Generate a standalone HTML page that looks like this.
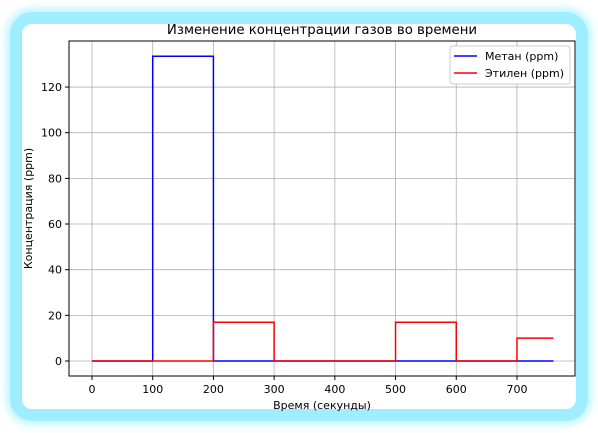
<!DOCTYPE html>
<html><head><meta charset="utf-8"><style>
body{margin:0;width:598px;height:433px;background:#fff;overflow:hidden;font-family:"DejaVu Sans","Liberation Sans",sans-serif;}
#frame{position:absolute;left:10px;top:12px;width:554px;height:385px;border:12px solid #9eeeff;border-radius:22px;box-shadow:0 0 8px 4px #c0f5ff;}
svg{position:absolute;left:0;top:0;}
</style></head><body>
<div id="frame"></div>
<svg id="chart" width="598" height="433" font-family="DejaVu Sans, Liberation Sans, sans-serif"></svg>
<script>
const times=[0,100,200,300,500,600,700,760];
const methane=[0,133.5,0,0,0,0,0];
const ethylene=[0,0,17,0,17,0,10];
const xTicks=[0,100,200,300,400,500,600,700];
const yTicks=[0,20,40,60,80,100,120];
const L=69,R=575,T=41,B=376;
const X=v=>92+v*0.6071, Y=v=>361-v*2.283;
const s=document.getElementById('chart'),NS='http://www.w3.org/2000/svg';
function mk(t,a,txt){const e=document.createElementNS(NS,t);for(const k in a)e.setAttribute(k,a[k]);if(txt!==undefined)e.textContent=txt;s.appendChild(e);return e;}
xTicks.forEach(v=>{
const g=mk('line',{x1:X(v),x2:X(v),y1:T,y2:B,stroke:'#b0b0b0','stroke-width':0.8});


mk('line',{x1:X(v),x2:X(v),y1:B,y2:B+4,stroke:'#000'});
const t=mk('text',{x:X(v),y:B+17,'text-anchor':'middle','font-size':11},v);


});
yTicks.forEach(v=>{
const g=mk('line',{x1:L,x2:R,y1:Y(v),y2:Y(v),stroke:'#b0b0b0','stroke-width':0.8});


mk('line',{x1:L-4,x2:L,y1:Y(v),y2:Y(v),stroke:'#000'});
const t=mk('text',{x:L-7,y:Y(v)+4,'text-anchor':'end','font-size':11},v);


});
function step(vals,color,name){
let d='M'+X(times[0])+','+Y(vals[0]);
for(let i=0;i<vals.length;i++){d+=' L'+X(times[i])+','+Y(vals[i])+' L'+X(times[i+1])+','+Y(vals[i]);}
const p=mk('path',{d:d,fill:'none',stroke:color,'stroke-width':1.5});


}
step(methane,'#0000ff','methane-line');
step(ethylene,'#ff0000','ethylene-line');
const ax=mk('rect',{x:L,y:T,width:R-L,height:B-T,fill:'none',stroke:'#000','stroke-width':1});


const ti=mk('text',{x:(L+R)/2,y:34,'text-anchor':'middle','font-size':13.3},'Изменение концентрации газов во времени');


const xl=mk('text',{x:(L+R)/2,y:409,'text-anchor':'middle','font-size':11},'Время (секунды)');


const yl=mk('text',{x:32,y:(T+B)/2,'text-anchor':'middle','font-size':11,transform:'rotate(-90 32 '+(T+B)/2+')'},'Концентрация (ppm)');


const lg=mk('rect',{x:450,y:46,width:120,height:38,fill:'#fff',stroke:'#ccc',rx:3});


[['Метан (ppm)','#0000ff',56],['Этилен (ppm)','#ff0000',73]].forEach(([n,c,y])=>{
mk('line',{x1:454,x2:477,y1:y,y2:y,stroke:c,'stroke-width':1.5});
const t=mk('text',{x:485,y:y+4,'font-size':11},n);


});
</script>
</body></html>
